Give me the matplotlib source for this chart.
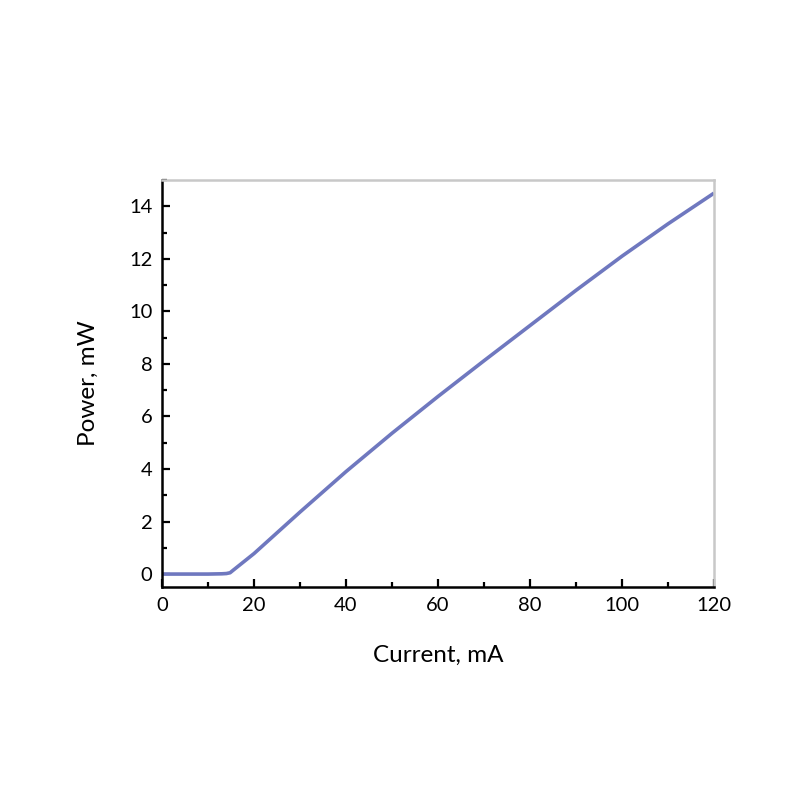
import matplotlib
matplotlib.use("Agg")
import matplotlib.pyplot as plt
from matplotlib.ticker import MultipleLocator

plt.rcParams["font.family"] = ["Lato", "DejaVu Sans"]

# L-I curve
current_ma = [0, 5, 10, 13, 14, 14.8, 15.5, 20, 30, 40, 50, 60, 70, 80, 90, 100, 110, 120]
power_mw = [0, 0, 0, 0.01, 0.02, 0.05, 0.15, 0.78, 2.36, 3.9, 5.36, 6.76, 8.12, 9.46, 10.8, 12.1, 13.33, 14.5]

fig = plt.figure(figsize=(8, 8), dpi=100)
ax = fig.add_axes([0.2025, 0.266, 0.69, 0.509])
ax.plot(current_ma, power_mw, color="#6f78bf", lw=2.6, solid_capstyle="butt",
        solid_joinstyle="round")

ax.set_xlim(0, 120)
ax.set_ylim(-0.5, 15)
ax.xaxis.set_major_locator(MultipleLocator(20))
ax.xaxis.set_minor_locator(MultipleLocator(10))
ax.yaxis.set_major_locator(MultipleLocator(2))
ax.yaxis.set_minor_locator(MultipleLocator(1))
ax.tick_params(which="both", direction="in", width=1.6, labelsize=14.5, colors="black")
ax.tick_params(which="major", length=6, pad=7)
ax.tick_params(which="minor", length=3.5)

for side in ("left", "bottom"):
    ax.spines[side].set_linewidth(1.8)
    ax.spines[side].set_color("black")
for side in ("top", "right"):
    ax.spines[side].set_linewidth(1.8)
    ax.spines[side].set_color("#c8c8c8")

ax.set_xlabel("Current, mA", fontsize=17.5, labelpad=22)
ax.set_ylabel("Power, mW", fontsize=17.5, labelpad=22)

fig.savefig("out.png", dpi=100)
